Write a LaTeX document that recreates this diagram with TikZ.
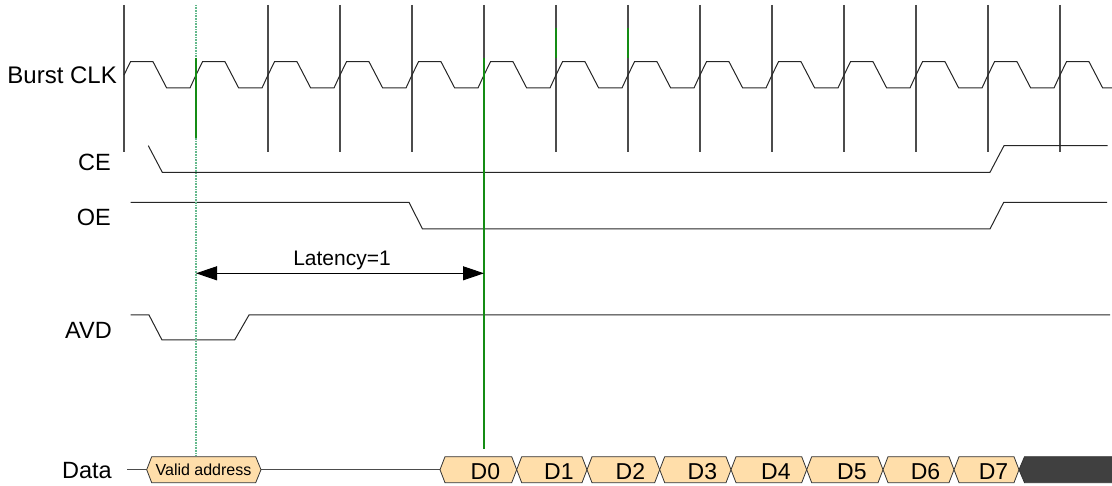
\documentclass[tikz,border=0pt]{standalone}
\usepackage{fontspec}
\setmainfont{Liberation Sans}
\usetikzlibrary{arrows.meta,calc}
\definecolor{marktl}{RGB}{100,185,140}
\definecolor{markgr}{RGB}{20,140,20}
\definecolor{busfill}{RGB}{255,222,170}
\definecolor{busdark}{RGB}{64,64,64}
% one bus cell: style, left x, right x, name, text
\newcommand{\buscell}[5]{%
\draw[#1] (#2,469.7) -- (#2+5,456.7) -- (#3-5,456.7) -- (#3,469.7)
-- (#3-5,482.7) -- (#2+5,482.7) -- cycle;
\node[dlabel] (#4) at ({(#2+#3)/2+7},479.3) {#5};}

\begin{document}
\begin{tikzpicture}
[x=1pt,y=-1pt,
sig/.style={black!85,line width=1pt},
tick/.style={black!70,line width=1.2pt},
siglabel/.style={anchor=east,inner sep=0pt,font=\fontsize{23.5}{26}\selectfont},
dlabel/.style={anchor=base,inner sep=0pt,font=\fontsize{23}{26}\selectfont},
cell/.style={draw=black!80,line width=.8pt,fill=busfill},
darkcell/.style={draw=black!80,line width=.8pt,fill=busdark},
latarrow/.style={line width=1pt,{Triangle[length=21pt,width=14pt]}-{Triangle[length=21pt,width=14pt]}}]
\useasboundingbox (0,0) rectangle (1112,486);
\clip (0,0) rectangle (1112,486);
%%
\node[siglabel,font=\fontsize{24}{26}\selectfont] (clk) at (117,75) {Burst CLK};
\node[siglabel] (ce) at (111,162) {CE};
\node[siglabel] (oe) at (111,217) {OE};
\node[siglabel] (avd) at (112,330) {AVD};
\node[siglabel] (data) at (112,471) {Data};
%%
\foreach \c in {124,268,340,...,1060}
\draw[tick] (\c,5) -- (\c,152);
\draw[sig] (124,75) \foreach \c in {124,196,...,988}
{ -- (\c+6.5,61.7) -- (\c+29,61.7) -- (\c+42.7,88) -- (\c+66,88) -- (\c+72,75) }
-- (1066.5,61.7) -- (1089,61.7) -- (1102.7,88) -- (1112,88);
%%
\draw[sig] (148.3,145.7) -- (162.3,172.3) -- (990,172.3) -- (1004,145.7) -- (1107.7,145.7);
\draw[sig] (130.7,202.3) -- (409,202.3) -- (422.5,229) -- (990,229) -- (1003.7,202.3) -- (1107,202.3);
\draw[sig] (130.7,315) -- (149,315) -- (162,340) -- (234.6,340) -- (249,315) -- (1110,315);
%%
\draw[sig,black!70] (127,469.7) -- (146.7,469.7);
\draw[sig,black!70] (261,469.7) -- (440,469.7);
\draw[cell] (146.7,469.7) -- (151.7,456.7) -- (255.7,456.7) -- (261,469.7)
-- (255.7,482.7) -- (151.7,482.7) -- cycle;
\node[inner sep=0pt,font=\fontsize{16}{18}\selectfont] (addr) at (203.5,470) {Valid address};
\buscell{cell}{440}{516.7}{d0}{D0}
\buscell{cell}{516.7}{587}{d1}{D1}
\buscell{cell}{587}{659.7}{d2}{D2}
\buscell{cell}{659.7}{731}{d3}{D3}
\buscell{cell}{731}{806.7}{d4}{D4}
\buscell{cell}{806.7}{883}{d5}{D5}
\buscell{cell}{883}{954}{d6}{D6}
\buscell{cell}{954}{1019}{d7}{D7}
\draw[darkcell] (1019,469.7) -- (1024.5,456.7) -- (1116,456.7) -- (1116,482.7) -- (1024.5,482.7) -- cycle;
%%
\draw[marktl,line width=1.3pt,dash pattern=on 1pt off .6pt] (196,5) -- (196,456);
\draw[markgr,line width=1.1pt] (196,58) -- (196,138);
\draw[markgr,line width=1.3pt] (484,58) -- (484,449);
\draw[markgr,line width=1.2pt] (556,28) -- (556,58);
\draw[markgr,line width=1.2pt] (628,28) -- (628,58);
%%
\coordinate (t0) at (196,273.3);
\coordinate (t1) at (484,273.3);
\draw[latarrow] (t0) -- (t1);
\node[anchor=base,inner sep=0pt,font=\fontsize{21}{24}\selectfont] (lat) at (342,265.7) {Latency=1};
\end{tikzpicture}
\end{document}
